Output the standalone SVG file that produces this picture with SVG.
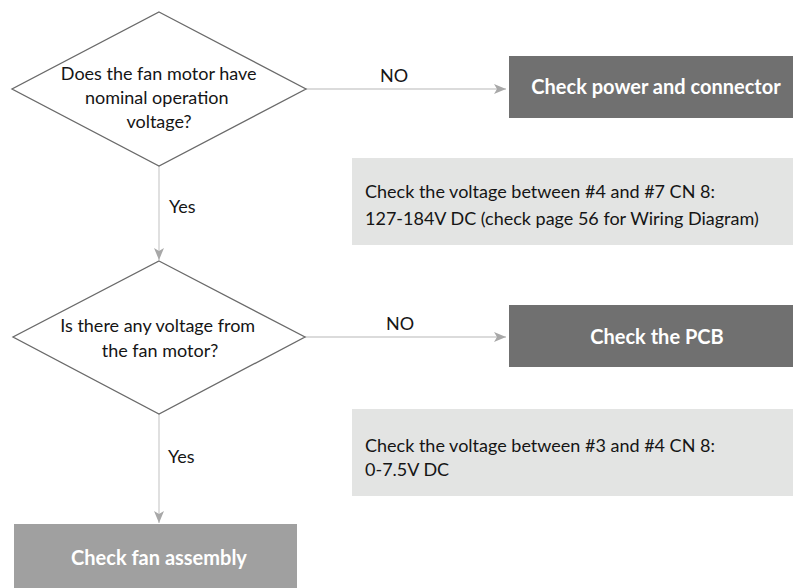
<svg xmlns="http://www.w3.org/2000/svg" width="793" height="588" viewBox="0 0 793 588">
  <style>
    .decision { fill: #ffffff; stroke: #6a6a6a; stroke-width: 1.3; }
    .action { fill: #707070; }
    .final { fill: #a0a0a0; }
    .note { fill: #e3e4e3; }
    .txt { font-family: "Lato", "Liberation Sans", sans-serif; font-size: 18px; fill: #151515; }
    .btxt { font-family: "Lato", "Liberation Sans", sans-serif; font-size: 20px; font-weight: bold; fill: #ffffff; }
    .conn { fill: none; stroke: #cfcfcf; stroke-width: 1.3; }
  </style>
  <defs>
    <marker id="arrow" viewBox="0 0 12 10" refX="12" refY="5" markerWidth="12" markerHeight="10" markerUnits="userSpaceOnUse" orient="auto">
      <path d="M0,0 L12,5 L0,10 L3,5 Z" fill="#a8a8a8"/>
    </marker>
  </defs>
  <rect width="793" height="588" fill="#ffffff"/>

  <!-- connectors -->
  <g id="connectors">
    <line class="conn" x1="306" y1="89" x2="506" y2="89" marker-end="url(#arrow)"/>
    <line class="conn" x1="159" y1="166" x2="159" y2="260" marker-end="url(#arrow)"/>
    <line class="conn" x1="305" y1="337" x2="506" y2="337" marker-end="url(#arrow)"/>
    <line class="conn" x1="159" y1="414" x2="159" y2="523" marker-end="url(#arrow)"/>
    <text class="txt" x="394" y="82" text-anchor="middle">NO</text>
    <text class="txt" x="400" y="330" text-anchor="middle">NO</text>
    <text class="txt" x="169" y="213">Yes</text>
    <text class="txt" x="168" y="463">Yes</text>
  </g>

  <!-- decision: nominal voltage -->
  <g id="q-voltage">
    <polygon class="decision" points="159,12 306,89 159,166 12,89"/>
    <text class="txt" text-anchor="middle">
      <tspan x="161" y="80">Does the fan motor have</tspan>
      <tspan x="159" y="104">nominal operation</tspan>
      <tspan x="159" y="128">voltage?</tspan>
    </text>
  </g>

  <!-- action: power and connector -->
  <g id="check-power">
    <rect class="action" x="509" y="56" width="290" height="62"/>
    <text class="btxt" x="656" y="94" text-anchor="middle">Check power and connector</text>
  </g>

  <!-- note: CN8 #4-#7 -->
  <g id="note-1">
    <rect class="note" x="352" y="158" width="445" height="87"/>
    <text class="txt">
      <tspan x="365" y="198">Check the voltage between #4 and #7 CN 8:</tspan>
      <tspan x="365" y="225">127-184V DC (check page 56 for Wiring Diagram)</tspan>
    </text>
  </g>

  <!-- decision: motor voltage -->
  <g id="q-motor">
    <polygon class="decision" points="159,261 305,337 159,414 13,337"/>
    <text class="txt" text-anchor="middle">
      <tspan x="160" y="332">Is there any voltage from</tspan>
      <tspan x="160" y="357">the fan motor?</tspan>
    </text>
  </g>

  <!-- action: PCB -->
  <g id="check-pcb">
    <rect class="action" x="509" y="305" width="290" height="62"/>
    <text class="btxt" x="657" y="344" text-anchor="middle">Check the PCB</text>
  </g>

  <!-- note: CN8 #3-#4 -->
  <g id="note-2">
    <rect class="note" x="352" y="409" width="445" height="87"/>
    <text class="txt">
      <tspan x="365" y="452">Check the voltage between #3 and #4 CN 8:</tspan>
      <tspan x="365" y="476">0-7.5V DC</tspan>
    </text>
  </g>

  <!-- final: fan assembly -->
  <g id="check-fan">
    <rect class="final" x="14" y="524" width="283" height="70"/>
    <text class="btxt" x="159" y="565" text-anchor="middle">Check fan assembly</text>
  </g>
</svg>
